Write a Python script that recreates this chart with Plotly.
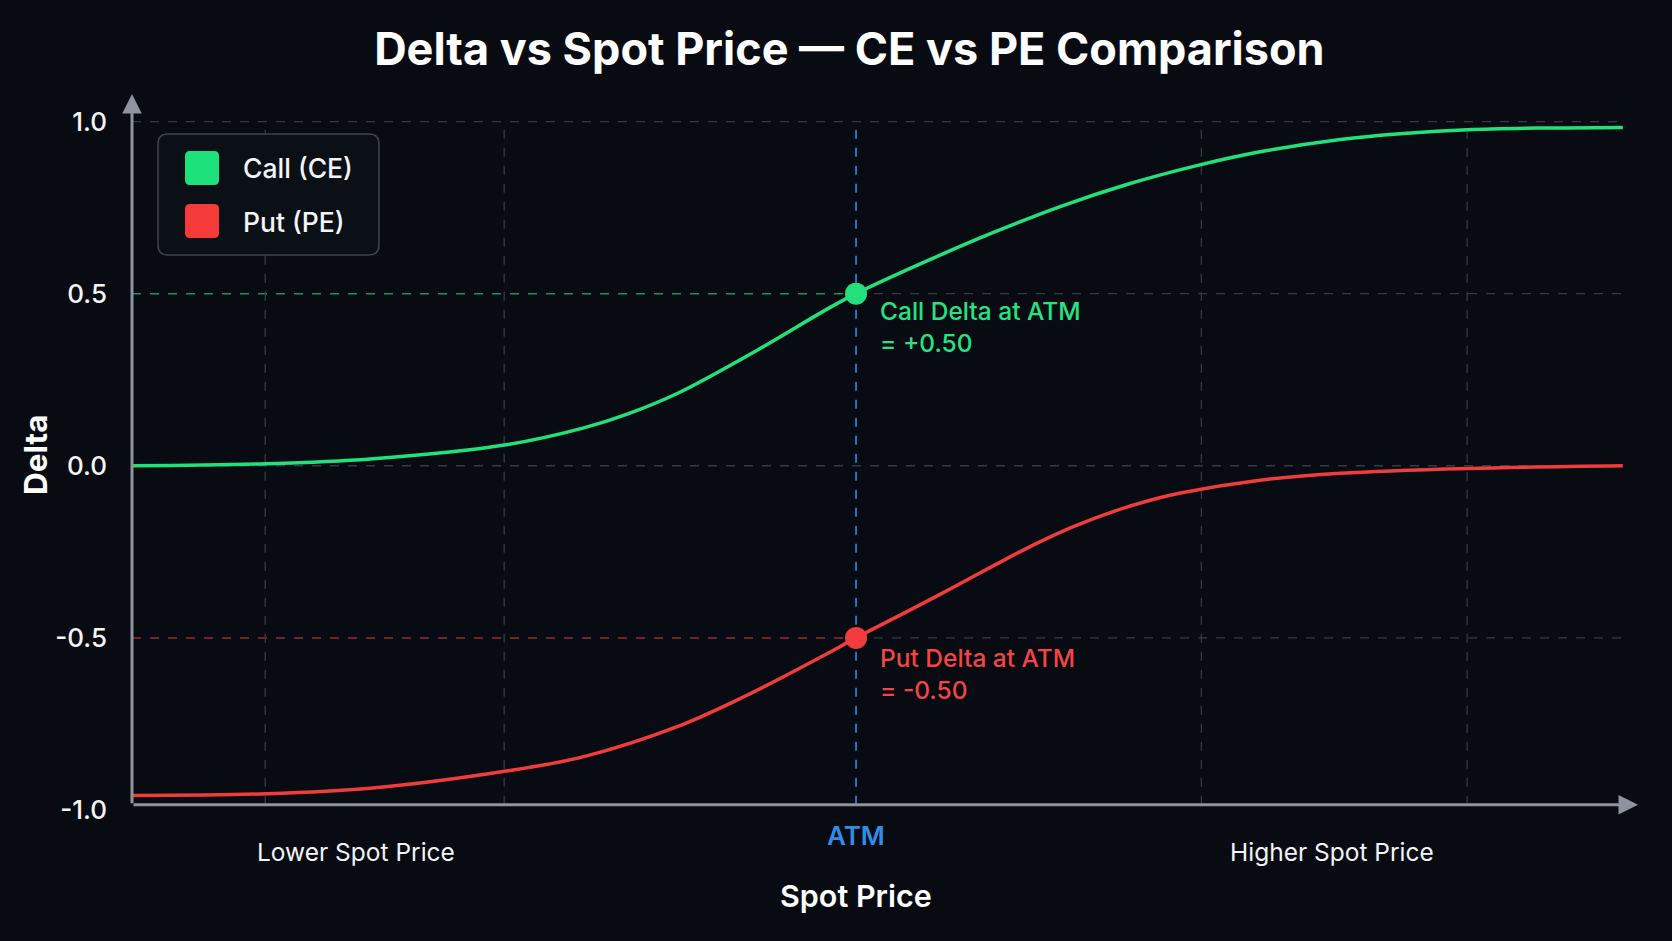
import plotly.graph_objects as go

# ---------------- data ----------------
# x: spot price relative to ATM (arbitrary units, ATM = 0)
call_x = [-100.0, -81.5, -67.1, -48.3, -37.6, -31.6, -24.7, -13.3, -4.0, 0.0,
          9.8, 18.9, 28.2, 37.4, 46.5, 55.8, 66.9, 76.1, 84.4, 94.5, 105.9]
call_delta = [0.000, 0.006, 0.020, 0.061, 0.110, 0.150, 0.210, 0.340, 0.455, 0.500,
              0.595, 0.677, 0.753, 0.817, 0.869, 0.912, 0.948, 0.966, 0.976, 0.981, 0.983]

put_x = [-100.0, -81.5, -67.1, -48.3, -37.6, -24.7, -15.2, -4.8, 0.0, 8.3, 13.7, 19.2,
         24.6, 30.1, 35.5, 41.0, 44.8, 55.8, 66.9, 84.4, 105.9]
put_delta = [-0.958, -0.953, -0.937, -0.887, -0.845, -0.758, -0.668, -0.555, -0.500, -0.410,
             -0.350, -0.288, -0.229, -0.176, -0.133, -0.098, -0.079, -0.042, -0.022, -0.008, 0.000]

atm_x = 0.0
atm_call_delta = 0.50
atm_put_delta = -0.50

y_tick_vals = [-1.0, -0.5, 0.0, 0.5, 1.0]
y_tick_text = ["-1.0", "-0.5", "0.0", "0.5", "1.0"]
x_grid_vals = [-81.6, -48.6, 47.7, 84.4]
x_label_text = ["Lower Spot Price", "ATM", "Higher Spot Price"]
x_label_pos = [-69.1, 0.0, 65.7]
series_names = ["Call (CE)", "Put (PE)"]

# ---------------- styling ----------------
BG = "#080b11"
GREEN = "#22e07c"
RED = "#f03c3c"
BLUE = "#2f8de6"
GRID = "#353b45"
AXIS = "#8e949d"
FONT = "Inter"

X_MIN, X_MAX = -100.0, 108.0
Y_MIN, Y_MAX = -1.0, 1.08
AXIS_Y = -0.985      # where the drawn x-axis line sits
CURVE_END = 105.9

fig = go.Figure()

# curves
fig.add_trace(go.Scatter(x=call_x, y=call_delta, mode="lines", name=series_names[0],
                         line=dict(color=GREEN, width=3.5, shape="spline", smoothing=1.0),
                         showlegend=False, hoverinfo="skip"))
fig.add_trace(go.Scatter(x=put_x, y=put_delta, mode="lines", name=series_names[1],
                         line=dict(color=RED, width=3.5, shape="spline", smoothing=1.0),
                         showlegend=False, hoverinfo="skip"))
# ATM points
fig.add_trace(go.Scatter(x=[atm_x], y=[atm_call_delta], mode="markers",
                         marker=dict(color=GREEN, size=22), showlegend=False, hoverinfo="skip"))
fig.add_trace(go.Scatter(x=[atm_x], y=[atm_put_delta], mode="markers",
                         marker=dict(color=RED, size=22), showlegend=False, hoverinfo="skip"))

shapes = []
# horizontal grid
for yv in [1.0, 0.0]:
    shapes.append(dict(type="line", xref="x", yref="y", x0=X_MIN, x1=CURVE_END, y0=yv, y1=yv,
                       line=dict(color=GRID, width=1.3, dash="dash"), layer="below"))
for yv, col in [(atm_call_delta, "rgba(34,224,124,0.65)"), (atm_put_delta, "rgba(240,60,60,0.65)")]:
    shapes.append(dict(type="line", xref="x", yref="y", x0=X_MIN, x1=atm_x, y0=yv, y1=yv,
                       line=dict(color=col, width=1.5, dash="dash"), layer="below"))
    shapes.append(dict(type="line", xref="x", yref="y", x0=atm_x, x1=CURVE_END, y0=yv, y1=yv,
                       line=dict(color=GRID, width=1.3, dash="dash"), layer="below"))
# vertical grid
for xv in x_grid_vals:
    shapes.append(dict(type="line", xref="x", yref="y", x0=xv, x1=xv, y0=AXIS_Y, y1=1.0,
                       line=dict(color=GRID, width=1.3, dash="dash"), layer="below"))
# ATM line
shapes.append(dict(type="line", xref="x", yref="y", x0=atm_x, x1=atm_x, y0=AXIS_Y, y1=1.0,
                   line=dict(color=BLUE, width=1.6, dash="dash"), layer="below"))

# legend box (rounded)
PW, PH = 1506.0, 716.0


def rrect(x0, y0, x1, y1, r):
    rx, ry = r / PW, r / PH
    return (f"M {x0+rx} {y1} L {x1-rx} {y1} Q {x1} {y1} {x1} {y1-ry} "
            f"L {x1} {y0+ry} Q {x1} {y0} {x1-rx} {y0} L {x0+rx} {y0} "
            f"Q {x0} {y0} {x0} {y0+ry} L {x0} {y1-ry} Q {x0} {y1} {x0+rx} {y1} Z")


shapes.append(dict(type="path", xref="paper", yref="paper",
                   path=rrect(0.01726, 0.7751, 0.1640, 0.9441, 10),
                   fillcolor="#0b0f16", line=dict(color="#3e444d", width=1.5)))
shapes.append(dict(type="path", xref="paper", yref="paper",
                   path=rrect(0.0352, 0.8729, 0.0578, 0.9204, 5),
                   fillcolor="#1de27b", line=dict(width=0)))
shapes.append(dict(type="path", xref="paper", yref="paper",
                   path=rrect(0.0352, 0.7989, 0.0578, 0.8464, 5),
                   fillcolor="#f53a3a", line=dict(width=0)))

annotations = []
# axis arrows
annotations.append(dict(x=X_MIN, y=Y_MAX, ax=X_MIN, ay=AXIS_Y, xref="x", yref="y",
                        axref="x", ayref="y", text="", showarrow=True, arrowhead=2,
                        arrowsize=1.3, arrowwidth=3, arrowcolor=AXIS))
annotations.append(dict(x=X_MAX, y=AXIS_Y, ax=X_MIN, ay=AXIS_Y, xref="x", yref="y",
                        axref="x", ayref="y", text="", showarrow=True, arrowhead=2,
                        arrowsize=1.3, arrowwidth=3, arrowcolor=AXIS))
# legend text
for name, yp in zip(series_names, [0.8966, 0.8212]):
    annotations.append(dict(x=0.0724, y=yp, xref="paper", yref="paper", text=name,
                            showarrow=False, xanchor="left", yanchor="middle",
                            font=dict(family=FONT, size=26.5, color="#f2f4f7", weight=500)))
# ATM annotations
annotations.append(dict(x=atm_x, y=atm_call_delta, xref="x", yref="y",
                        text="Call Delta at ATM<br>= +0.50", showarrow=False,
                        xanchor="left", yanchor="top", align="left", xshift=22, yshift=0,
                        font=dict(family=FONT, size=24.5, color="#27e383", weight=500)))
annotations.append(dict(x=atm_x, y=atm_put_delta, xref="x", yref="y",
                        text="Put Delta at ATM<br>= -0.50", showarrow=False,
                        xanchor="left", yanchor="top", align="left", xshift=22, yshift=-3,
                        font=dict(family=FONT, size=24.5, color="#f24646", weight=500)))
# x-axis labels
for txt, xp in zip(x_label_text, x_label_pos):
    if txt == "ATM":
        annotations.append(dict(x=xp, y=-0.0363, xref="x", yref="paper", text=txt,
                                showarrow=False, xanchor="center", yanchor="middle",
                                font=dict(family=FONT, size=26, color=BLUE, weight=600)))
    else:
        annotations.append(dict(x=xp, y=-0.0587, xref="x", yref="paper", text=txt,
                                showarrow=False, xanchor="center", yanchor="middle",
                                font=dict(family=FONT, size=24.5, color="#f2f4f7")))
# axis titles
annotations.append(dict(x=atm_x, y=-0.1201, xref="x", yref="paper", text="Spot Price",
                        showarrow=False, xanchor="center", yanchor="middle",
                        font=dict(family=FONT, size=30.5, color="#ffffff", weight=600)))
annotations.append(dict(x=-0.0644, y=0.4958, xref="paper", yref="paper", text="Delta",
                        showarrow=False, xanchor="center", yanchor="middle", textangle=-90,
                        font=dict(family=FONT, size=31.5, color="#ffffff", weight=700)))

fig.update_layout(
    width=1672, height=941,
    paper_bgcolor=BG, plot_bgcolor=BG,
    margin=dict(l=132, r=34, t=94, b=131),
    title=dict(text="Delta vs Spot Price — CE vs PE Comparison", x=0.508, y=0.948,
               xanchor="center", yanchor="middle",
               font=dict(family=FONT, size=45, color="#ffffff", weight=700)),
    xaxis=dict(range=[X_MIN, X_MAX], showgrid=False, zeroline=False, showline=False,
               showticklabels=False, ticks=""),
    yaxis=dict(range=[Y_MIN, Y_MAX], showgrid=False, zeroline=False, showline=False,
               tickvals=y_tick_vals, ticktext=y_tick_text, ticks="",
               ticklabelstandoff=24,
               tickfont=dict(family=FONT, size=26, color="#f2f4f7", weight=500)),
    shapes=shapes,
    annotations=annotations,
    showlegend=False,
)

fig.write_html("out.html")
